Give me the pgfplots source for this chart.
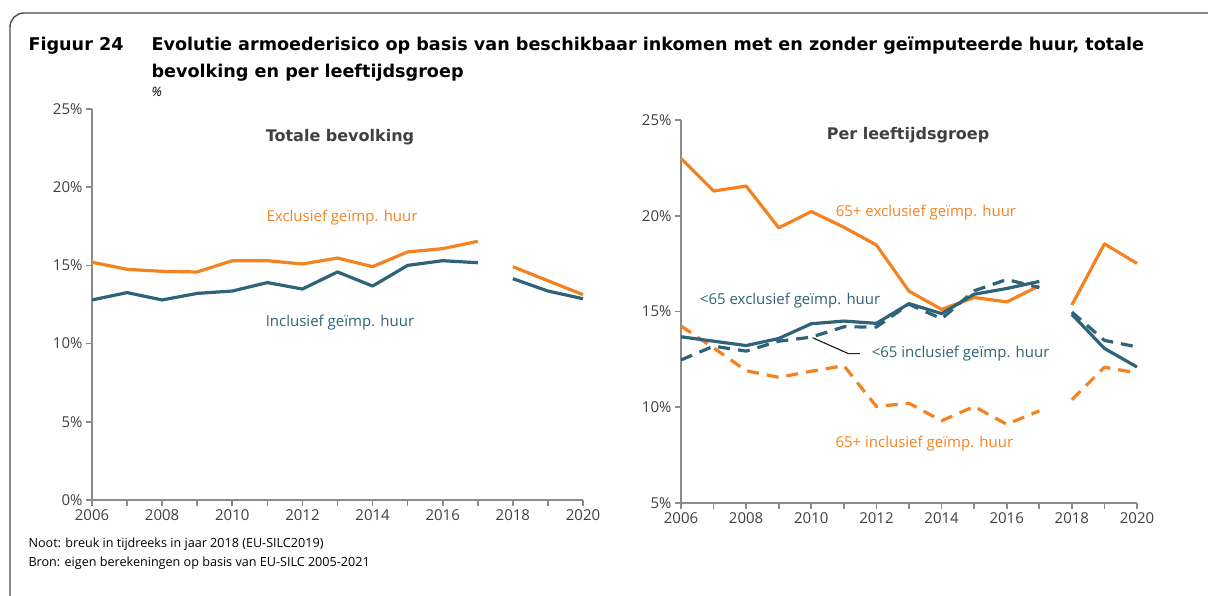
\documentclass[border=0pt]{standalone}
\usepackage{pgfplots}
\pgfplotsset{compat=1.18}
\usepackage{fontspec}
\setmainfont{Open Sans}
\newfontfamily\dvs{DejaVu Sans}
\definecolor{cor}{RGB}{245,130,32}
\definecolor{cbl}{RGB}{46,99,121}
\definecolor{axg}{RGB}{140,140,140}
\definecolor{txg}{RGB}{64,64,64}
\pgfplotsset{myax/.style={scale only axis, axis x line*=bottom, axis y line*=left,
  axis line style={axg, line width=2pt}, xmin=2006, xmax=2020,
  xtick={2006,2008,2010,2012,2014,2016,2018,2020},
  minor xtick={2007,2009,2011,2013,2015,2017,2019},
  xticklabels={2006,2008,2010,2012,2014,2016,2018,2020},
  tick style={axg, line width=1.6pt}, major tick length=6pt, minor tick length=6pt,
  tick align=outside,
  ticklabel style={txg, font=\fontsize{15}{18}\selectfont},
  clip=false}}
\tikzset{ln/.style={line width=3.2pt, line join=round, line cap=butt},
  dsh/.style={ln, dash pattern=on 12pt off 8pt},
  lab/.style={font=\fontsize{15}{18}\selectfont},
  ttl/.style={font=\dvs\fontsize{17.6}{20}\selectfont\bfseries},
  ctl/.style={font=\dvs\fontsize{16}{18}\selectfont\bfseries, txg}}
\begin{document}
\begin{tikzpicture}[x=1pt,y=1pt]
\useasboundingbox (0pt,0pt) rectangle (1208pt,596pt);
\begin{scope}
\clip (0pt,0pt) rectangle (1208pt,596pt);
\draw[line width=1.4pt, black!70, rounded corners=14pt] (10pt,-40pt) -- (10pt,583pt) -- (1260pt,583pt);
\end{scope}
\node[anchor=base west, ttl] at (25pt,545pt) {Figuur 24};
\node[anchor=base west, ttl] at (148pt,545pt) {Evolutie armoederisico op basis van beschikbaar inkomen met en zonder geïmputeerde huur, totale};
\node[anchor=base west, ttl] at (148pt,518pt) {bevolking en per leeftijdsgroep};
\node[anchor=base west, font=\fontsize{13}{16}\selectfont\itshape] at (148pt,499pt) {\%};
\node[anchor=base west, font=\fontsize{12.6}{16}\selectfont] at (25pt,48pt) {Noot: breuk in tijdreeks in jaar 2018 (EU-SILC2019)};
\node[anchor=base west, font=\fontsize{12.6}{16}\selectfont] at (25pt,29pt) {Bron: eigen berekeningen op basis van EU-SILC 2005-2021};

\begin{axis}[myax, at={(92pt,96pt)}, anchor=south west, width=491pt, height=391pt,
  ymin=0, ymax=25, ytick={0,5,10,15,20,25}, yticklabels={0\%,5\%,10\%,15\%,20\%,25\%}]
\addplot[ln, cor] coordinates {(2006,15.2) (2007,14.75) (2008,14.62) (2009,14.58) (2010,15.3) (2011,15.3) (2012,15.09) (2013,15.47) (2014,14.92) (2015,15.86) (2016,16.07) (2017,16.54)};
\addplot[ln, cor] coordinates {(2018,14.92) (2019,14.02) (2020,13.13)};
\addplot[ln, cbl] coordinates {(2006,12.79) (2007,13.26) (2008,12.79) (2009,13.21) (2010,13.36) (2011,13.9) (2012,13.49) (2013,14.58) (2014,13.68) (2015,15.0) (2016,15.3) (2017,15.17)};
\addplot[ln, cbl] coordinates {(2018,14.15) (2019,13.36) (2020,12.87)};
\node[ctl] at (axis cs:2013.07,23.23) {Totale bevolking};
\node[lab, cor] at (axis cs:2013.13,18.05) {Exclusief geïmp. huur};
\node[lab, cbl] at (axis cs:2013.07,11.36) {Inclusief geïmp. huur};
\end{axis}

\begin{axis}[myax, at={(681pt,93pt)}, anchor=south west, width=456pt, height=383pt,
  ymin=5, ymax=25, ytick={5,10,15,20,25}, yticklabels={5\%,10\%,15\%,20\%,25\%}]
\addplot[ln, cor] coordinates {(2006,22.99) (2007,21.29) (2008,21.55) (2009,19.37) (2010,20.22) (2011,19.4) (2012,18.47) (2013,16.06) (2014,15.11) (2015,15.73) (2016,15.5) (2017,16.34)};
\addplot[ln, cor] coordinates {(2018,15.34) (2019,18.53) (2020,17.51)};
\addplot[dsh, cor] coordinates {(2006,14.24) (2007,13.1) (2008,11.91) (2009,11.56) (2010,11.88) (2011,12.17) (2012,10.04) (2013,10.21) (2014,9.29) (2015,10.04) (2016,9.11) (2017,9.81)};
\addplot[dsh, cor] coordinates {(2018,10.39) (2019,12.09) (2020,11.79)};
\addplot[ln, cbl] coordinates {(2006,13.68) (2007,13.45) (2008,13.22) (2009,13.59) (2010,14.36) (2011,14.5) (2012,14.38) (2013,15.41) (2014,14.89) (2015,15.9) (2016,16.2) (2017,16.57)};
\addplot[ln, cbl] coordinates {(2018,14.85) (2019,13.07) (2020,12.1)};
\addplot[dsh, cbl] coordinates {(2006,12.47) (2007,13.19) (2008,12.93) (2009,13.45) (2010,13.66) (2011,14.2) (2012,14.19) (2013,15.38) (2014,14.62) (2015,16.08) (2016,16.67) (2017,16.25)};
\addplot[dsh, cbl] coordinates {(2018,14.97) (2019,13.49) (2020,13.15)};
\addplot[black!85, line width=1.2pt] coordinates {(2010.04,13.63) (2011.14,12.8) (2011.49,12.8)};
\node[ctl] at (axis cs:2012.97,24.21) {Per leeftijdsgroep};
\node[lab, cor] at (axis cs:2013.52,20.14) {65+ exclusief geïmp. huur};
\node[lab, cbl] at (axis cs:2009.35,15.55) {<65 exclusief geïmp. huur};
\node[lab, cbl, anchor=west] at (axis cs:2011.75,12.8) {<65 inclusief geïmp. huur};
\node[lab, cor] at (axis cs:2013.47,8.08) {65+ inclusief geïmp. huur};
\end{axis}
\end{tikzpicture}
\end{document}
